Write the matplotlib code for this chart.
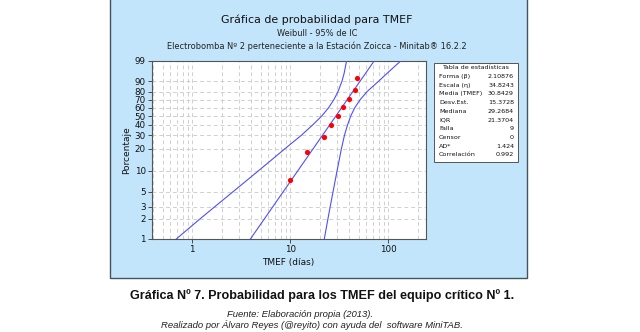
import numpy as np
import matplotlib.pyplot as plt
from matplotlib.patches import Rectangle
from matplotlib.ticker import LogLocator, NullFormatter, FixedLocator

# tiempos entre fallas (dias), ordenados
tmef = [10.0, 14.8, 21.9, 26.0, 30.9, 34.8, 40.0, 45.7, 48.3]

# parametros Weibull del ajuste
forma = 2.10876
escala = 34.8243

# bandas de confianza 95% (percentil -> tiempo)
ci_pct = [1, 2, 3, 5, 10, 20, 30, 40, 50, 60, 70, 80, 90, 95, 99]
ci_inf = [0.69, 1.21, 1.70, 2.62, 4.76, 8.8, 13.0, 17.0, 21.0, 24.6, 27.8, 30.8, 33.8, 35.5, 37.6]
ci_sup = [22.3, 24.3, 25.6, 27.4, 30.1, 33.3, 35.8, 38.5, 41.5, 45.5, 51.5, 61.0, 80.0, 97.0, 134.0]

pct_ticks = [1, 2, 3, 5, 10, 20, 30, 40, 50, 60, 70, 80, 90, 99]
x_ticks = [1, 10, 100]

tabla_nombres = ['Forma (β)', 'Escala (η)', 'Media (TMEF)', 'Desv.Est.', 'Mediana',
                 'IQR', 'Falla', 'Censor', 'AD*', 'Correlación']
tabla_valores = ['2.10876', '34.8243', '30.8429', '15.3728', '29.2684',
                 '21.3704', '9', '0', '1.424', '0.992']

W, H = 640, 332
AZUL = '#5050f2'
FONDO = '#c2e5fb'


def fwd(p):
    p = np.clip(np.asarray(p, dtype=float), 1e-6, 100 - 1e-6) / 100.0
    return np.log(-np.log(1 - p))


def inv(w):
    return 100.0 * (1 - np.exp(-np.exp(w)))


def fx(px):
    return px / W


def fy(py):
    return 1 - py / H


fig = plt.figure(figsize=(W / 100, H / 100), dpi=100)

# panel celeste estilo Minitab
fig.add_artist(Rectangle((fx(110), fy(278)), fx(417), 300 / H, transform=fig.transFigure,
                         facecolor=FONDO, edgecolor='#46525c', lw=1.0, zorder=0))

fig.text(fx(317), fy(20), 'Gráfica de probabilidad para TMEF', ha='center', va='center',
         fontsize=7.9, family='DejaVu Sans', color='#111111')
fig.text(fx(317), fy(33), 'Weibull - 95% de IC', ha='center', va='center',
         fontsize=5.95, family='DejaVu Sans', color='#222222')
fig.text(fx(317), fy(46), 'Electrobomba Nº 2 perteneciente a la Estación Zoicca - Minitab® 16.2.2',
         ha='center', va='center', fontsize=5.95, family='DejaVu Sans', color='#222222')

ax = fig.add_axes([fx(152), fy(239), fx(274), 178 / H])
ax.set_facecolor('white')
ax.set_xscale('log')
ax.set_yscale('function', functions=(fwd, inv))
ax.set_xlim(0.39, 243)
ax.set_ylim(1, 99)

# recta del ajuste a partir de forma y escala
p_linea = np.array([1.0, 99.0])
t_linea = escala * (-np.log(1 - p_linea / 100)) ** (1 / forma)
ax.plot(t_linea, p_linea, color=AZUL, lw=0.8, zorder=3)
ax.plot(ci_inf, ci_pct, color=AZUL, lw=0.8, zorder=3)
ax.plot(ci_sup, ci_pct, color=AZUL, lw=0.8, zorder=3)

# rangos medianos de Benard
n = len(tmef)
rangos = [100 * (i + 1 - 0.3) / (n + 0.4) for i in range(n)]
ax.scatter(tmef, rangos, s=14, color='#ff0000', zorder=4, linewidths=0)

ax.yaxis.set_major_locator(FixedLocator(pct_ticks))
ax.set_yticklabels([str(v) for v in pct_ticks])
ax.yaxis.set_minor_locator(FixedLocator([]))
ax.xaxis.set_major_locator(FixedLocator(x_ticks))
ax.set_xticklabels([str(v) for v in x_ticks])
ax.xaxis.set_minor_locator(LogLocator(base=10, subs=np.arange(2, 10)))
ax.xaxis.set_minor_formatter(NullFormatter())

ax.grid(True, which='both', axis='x', ls=(0, (4, 3)), color='#d0d0d0', lw=0.7)
ax.grid(True, which='major', axis='y', ls=(0, (4, 3)), color='#d0d0d0', lw=0.7)
ax.tick_params(which='major', length=3, width=0.6, labelsize=6.3, pad=1.5,
               colors='#333333', labelcolor='#111111')
ax.tick_params(which='minor', length=0)
for s in ax.spines.values():
    s.set_color('#555555')
    s.set_linewidth(0.8)

fig.text(fx(288), fy(262), 'TMEF (días)', ha='center', va='center', fontsize=6.5,
         family='DejaVu Sans', color='#111111')
fig.text(fx(127), fy(150), 'Porcentaje', ha='center', va='center', rotation=90,
         fontsize=6.5, family='DejaVu Sans', color='#111111')

# tabla de estadisticas
fig.add_artist(Rectangle((fx(434), fy(162)), fx(84), 99 / H, transform=fig.transFigure,
                         facecolor='white', edgecolor='#555555', lw=0.7, zorder=1))
fig.text(fx(476), fy(67.5), 'Tabla de estadísticas', ha='center', va='center',
         fontsize=4.6, family='DejaVu Sans', color='#111111')
for i, (nombre, valor) in enumerate(zip(tabla_nombres, tabla_valores)):
    y = 76.5 + i * 8.7
    fig.text(fx(439), fy(y), nombre, ha='left', va='center', fontsize=4.6,
             family='DejaVu Sans', color='#111111')
    fig.text(fx(514), fy(y), valor, ha='right', va='center', fontsize=4.6,
             family='DejaVu Sans', color='#111111')

# pie de figura
fig.text(fx(322), fy(295.5), 'Gráfica Nº 7. Probabilidad para los TMEF del equipo crítico Nº 1.',
         ha='center', va='center', fontsize=9.1, fontweight='bold',
         family='Liberation Sans', color='#111111')
fig.text(fx(300), fy(314.3), 'Fuente: Elaboración propia (2013).', ha='center', va='center',
         fontsize=6.8, style='italic', family='Liberation Sans', color='#222222')
fig.text(fx(312), fy(325.2), 'Realizado por Álvaro Reyes (@reyito) con ayuda del  software MiniTAB.',
         ha='center', va='center', fontsize=6.8, style='italic', family='Liberation Sans',
         color='#222222')

fig.savefig('out.png', dpi=100)
